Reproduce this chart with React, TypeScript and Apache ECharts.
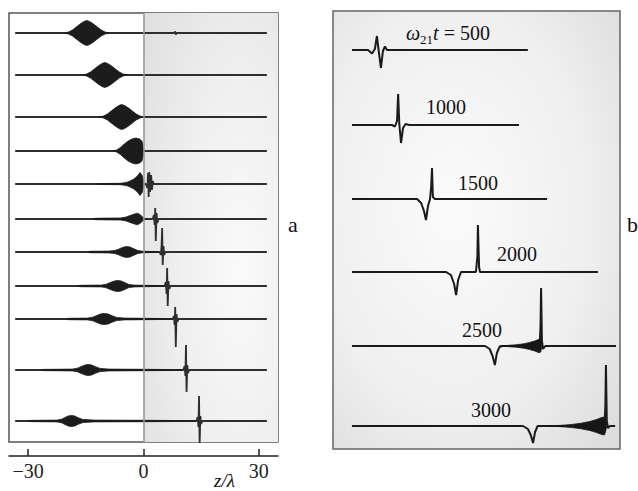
import React, { useEffect, useRef } from "react";
import * as echarts from "echarts";

const SERIF = '"Liberation Serif", "Times New Roman", serif';

// ---------- Panel a : z/λ traces ----------
const aZTicks = [-30, 0, 30];
const aRowOffsets = [2.0, 6.2, 10.4, 13.8, 17.1, 20.6, 23.9, 27.3, 30.6, 35.7, 40.8];
const aTraceSpan = [-33.4, 32.1];

// transmitted spikes: [z, displacement up]
const aSpikes: number[][][] = [
  [[8.0, 0], [8.2, 0.15], [8.4, -0.15], [8.6, 0]],
  [],
  [],
  [],
  [[0.6, 0], [1.0, -0.4], [1.2, 1.1], [1.35, -1.3], [1.5, 1.2], [1.7, -0.8], [2.0, 0.9], [2.2, -0.6], [2.4, 0.3], [2.7, 0]],
  [[2.4, 0], [2.7, 0.4], [2.9, -0.6], [3.05, 1.1], [3.2, -2.2], [3.4, 0.6], [3.6, -0.4], [3.9, 0]],
  [[4.2, 0], [4.5, -0.3], [4.7, 0.6], [4.85, 2.4], [5.0, -1.3], [5.2, 0.6], [5.4, -0.3], [5.7, 0]],
  [[5.5, 0], [5.8, 0.4], [6.0, -0.8], [6.15, 1.8], [6.3, -2.0], [6.5, 0.5], [6.7, -0.3], [7.0, 0]],
  [[7.6, 0], [7.9, 0.3], [8.1, -0.6], [8.25, 1.2], [8.4, -2.8], [8.6, 0.5], [8.8, -0.3], [9.1, 0]],
  [[10.4, 0], [10.7, 0.4], [10.9, -0.6], [11.05, 2.5], [11.2, -2.2], [11.4, 0.5], [11.6, -0.3], [11.9, 0]],
  [[13.8, 0], [14.1, 0.4], [14.3, -0.6], [14.45, 2.5], [14.6, -2.4], [14.8, 0.5], [15.0, -0.3], [15.3, 0]],
];

// wave-packet envelopes: [z, half amplitude]
const aEnvelopes: number[][][] = [
  [[-20.5, 0], [-19.5, 0.1], [-18.5, 0.3], [-17.5, 0.6], [-16.5, 0.9], [-15.5, 1.15], [-14.8, 1.25], [-14, 1.15], [-13, 0.9], [-12, 0.6], [-11, 0.3], [-10, 0.1], [-9, 0]],
  [[-15.8, 0], [-14.8, 0.1], [-13.8, 0.3], [-12.8, 0.6], [-11.8, 0.9], [-10.8, 1.15], [-10.1, 1.25], [-9.3, 1.15], [-8.3, 0.9], [-7.3, 0.6], [-6.3, 0.3], [-5.3, 0.1], [-4.3, 0]],
  [[-11.4, 0], [-10.4, 0.1], [-9.4, 0.3], [-8.4, 0.6], [-7.4, 0.9], [-6.4, 1.15], [-5.7, 1.25], [-4.9, 1.15], [-3.9, 0.9], [-2.9, 0.6], [-1.9, 0.3], [-0.9, 0.1], [0, 0]],
  [[-8, 0], [-7, 0.1], [-6, 0.35], [-5, 0.7], [-4, 1.0], [-3, 1.2], [-2, 1.3], [-1, 1.2], [-0.4, 1.0], [-0.1, 0.5], [0, 0]],
  [[-12, 0], [-11, 0.05], [-6, 0.07], [-4.5, 0.15], [-3.5, 0.3], [-2.5, 0.5], [-1.6, 0.8], [-0.9, 1.15], [-0.4, 0.9], [-0.1, 0.5], [0.1, 0]],
  [[-13, 0], [-12.5, 0.07], [-9, 0.09], [-6, 0.1], [-4.5, 0.2], [-3.5, 0.35], [-2.5, 0.48], [-1.6, 0.58], [-0.8, 0.42], [-0.2, 0.18], [0.2, 0.07], [1, 0]],
  [[-14.5, 0], [-14, 0.07], [-9, 0.09], [-7.5, 0.15], [-6.5, 0.28], [-5.5, 0.45], [-4.5, 0.55], [-3.5, 0.5], [-2.5, 0.32], [-1.5, 0.15], [-0.5, 0.09], [1, 0.06], [3, 0.05], [4, 0]],
  [[-17, 0], [-16.5, 0.07], [-11, 0.09], [-9.8, 0.16], [-8.8, 0.33], [-7.6, 0.5], [-6.7, 0.55], [-5.8, 0.5], [-4.8, 0.33], [-3.8, 0.16], [-2.5, 0.09], [0, 0.07], [3, 0.05], [5.5, 0]],
  [[-20, 0], [-19.5, 0.07], [-14.5, 0.09], [-13.2, 0.18], [-12, 0.38], [-11, 0.52], [-10.1, 0.55], [-9.2, 0.5], [-8.2, 0.33], [-7, 0.16], [-5, 0.09], [0, 0.07], [4, 0.05], [7.5, 0]],
  [[-26.5, 0], [-26, 0.06], [-18.5, 0.09], [-17.2, 0.18], [-16, 0.38], [-15, 0.52], [-14.3, 0.55], [-13.5, 0.5], [-12.5, 0.33], [-11.3, 0.16], [-9, 0.09], [0, 0.07], [6, 0.05], [10, 0]],
  [[-30, 0], [-29.5, 0.06], [-22.5, 0.09], [-21.3, 0.18], [-20.3, 0.38], [-19.4, 0.52], [-18.7, 0.55], [-17.9, 0.5], [-17, 0.33], [-15.8, 0.16], [-13, 0.09], [0, 0.07], [8, 0.05], [13.5, 0]],
];

// ---------- Panel b : ω21 t traces ----------
const bRowLabels = ["500", "1000", "1500", "2000", "2500", "3000"];
const bRowOffsets = [3.9, 11.4, 18.8, 26.1, 33.5, 41.5];
const bTraces: number[][][] = [
  [[6.6, 0], [12.2, 0], [13.6, -0.35], [14.6, 0.1], [15.3, 1.4], [15.8, 0.2], [16.7, -1.8], [17.4, -0.1], [18.1, 0.35], [18.8, 0], [67.9, 0]],
  [[6.6, 0], [20.5, 0], [21.6, -0.15], [22.3, 0.4], [22.7, 3.1], [23.1, 0.1], [23.7, -1.8], [24.4, -0.3], [25.3, 0.1], [26.5, 0], [64.8, 0]],
  [[6.6, 0], [29.3, 0], [30.7, -0.4], [31.7, -1.2], [32.4, -2.1], [33.1, -0.7], [33.8, 0], [34.2, 1.2], [34.5, 3.1], [34.8, 0.2], [35.5, 0], [74.6, 0]],
  [[6.6, 0], [39.4, 0], [41.1, -0.3], [42.2, -1.2], [42.9, -2.3], [43.6, -0.8], [44.6, 0], [49.8, 0], [50.3, 1.5], [50.5, 4.7], [50.9, 0.5], [51.2, 0], [92.3, 0]],
  [[6.6, 0], [53, 0], [54.6, -0.3], [55.6, -1.0], [56.4, -1.9], [57.1, -0.7], [58, -0.1], [59, 0], [72, 0], [72.3, 2.0], [72.5, 5.8], [72.8, 0.5], [73.2, -0.3], [74, 0], [98.6, 0]],
  [[6.6, 0], [66.2, 0], [67.9, -0.3], [68.9, -0.9], [69.7, -1.7], [70.4, -0.6], [71.3, 0], [94.6, 0], [94.9, 2.0], [95.1, 6.1], [95.4, 0.5], [95.8, -0.2], [96.5, 0], [98.3, 0]],
];
const bEnvelopeRows = [4, 5];
const bEnvelopes: number[][][] = [
  [[58, 0], [61, 0.06], [64, 0.13], [66.5, 0.22], [68.5, 0.35], [70.5, 0.52], [71.8, 0.68], [72.4, 0.6], [72.8, 0]],
  [[75, 0], [79, 0.06], [83, 0.15], [86.5, 0.28], [89.5, 0.45], [91.8, 0.65], [93.6, 0.85], [94.6, 0.9], [95.1, 0.4], [95.4, 0]],
];

function envelopeRenderer(envs: number[][][], offsets: number[], rows: number[], fill: string) {
  return (params: any, api: any) => {
    const i = params.dataIndex;
    const env = envs[i];
    const off = offsets[rows[i]];
    const upper = env.map(([z, a]) => api.coord([z, off - a]));
    const lower = env
      .slice()
      .reverse()
      .map(([z, a]) => api.coord([z, off + a]));
    return {
      type: "polygon",
      shape: { points: upper.concat(lower) },
      style: { fill, stroke: fill, lineWidth: 0.8 },
    };
  };
}

function buildOption() {
  const series: any[] = [];
  const aRows = aRowOffsets.map((_, i) => i);

  // shading + zero line holder
  series.push({
    type: "line",
    xAxisIndex: 0,
    yAxisIndex: 0,
    data: [[-35, 0]],
    symbol: "none",
    lineStyle: { width: 0 },
    silent: true,
    z: 1,
    markArea: {
      silent: true,
      itemStyle: {
        color: {
          type: "radial",
          x: 0.72,
          y: 0.6,
          r: 1.3,
          colorStops: [
            { offset: 0, color: "#fafafa" },
            { offset: 0.35, color: "#efefef" },
            { offset: 1, color: "#d2d2d2" },
          ],
        },
      },
      data: [[{ xAxis: 0 }, { xAxis: 35 }]],
    },
    markLine: {
      silent: true,
      symbol: ["none", "none"],
      label: { show: false },
      lineStyle: { color: "#9a9a9a", width: 1.6, type: "solid" },
      data: [{ xAxis: 0 }],
    },
  });

  aRowOffsets.forEach((off, i) => {
    const pts = [
      [aTraceSpan[0], off],
      ...aSpikes[i].map(([z, a]) => [z, off - a]),
      [aTraceSpan[1], off],
    ];
    series.push({
      type: "line",
      xAxisIndex: 0,
      yAxisIndex: 0,
      data: pts,
      symbol: "none",
      showSymbol: false,
      silent: true,
      z: 3,
      lineStyle: { color: "#2e2e2e", width: 1.8 },
    });
  });

  series.push({
    type: "custom",
    xAxisIndex: 0,
    yAxisIndex: 0,
    silent: true,
    z: 4,
    renderItem: envelopeRenderer(aEnvelopes, aRowOffsets, aRows, "#1c1c1c"),
    data: aEnvelopes.map((env, i) => [env[0][0], aRowOffsets[i]]),
  });

  bTraces.forEach((tr, i) => {
    const off = bRowOffsets[i];
    series.push({
      type: "line",
      xAxisIndex: 1,
      yAxisIndex: 1,
      data: tr.map(([u, a]) => [u, off - a]),
      symbol: "none",
      showSymbol: false,
      silent: true,
      z: 3,
      lineStyle: { color: "#1a1a1a", width: 2 },
    });
  });

  series.push({
    type: "custom",
    xAxisIndex: 1,
    yAxisIndex: 1,
    silent: true,
    z: 4,
    renderItem: envelopeRenderer(bEnvelopes, bRowOffsets, bEnvelopeRows, "#161616"),
    data: bEnvelopes.map((env, i) => [env[0][0], bRowOffsets[bEnvelopeRows[i]]]),
  });

  const labelPos = [
    [406, 33],
    [426, 107],
    [458, 183],
    [497, 254],
    [462, 330],
    [471, 410],
  ];

  const graphic: any[] = bRowLabels.map((lab, i) => {
    if (i === 0) {
      return {
        type: "text",
        x: labelPos[i][0],
        y: labelPos[i][1],
        z: 10,
        style: {
          text: "{i|ω}{s|21}{i|t}{n| = " + lab + "}",
          verticalAlign: "middle",
          align: "left",
          fill: "#111",
          rich: {
            i: { fontFamily: SERIF, fontStyle: "italic", fontSize: 20, lineHeight: 26, verticalAlign: "middle", fill: "#111" },
            s: { fontFamily: SERIF, fontSize: 13, lineHeight: 13, verticalAlign: "bottom", fill: "#111" },
            n: { fontFamily: SERIF, fontSize: 20, lineHeight: 26, verticalAlign: "middle", fill: "#111" },
          },
        },
      };
    }
    return {
      type: "text",
      x: labelPos[i][0],
      y: labelPos[i][1],
      z: 10,
      style: {
        text: lab,
        fontFamily: SERIF,
        fontSize: 20,
        fill: "#111",
        align: "left",
        verticalAlign: "middle",
      },
    };
  });

  graphic.push(
    {
      type: "text",
      x: 288,
      y: 224,
      style: { text: "a", fontFamily: SERIF, fontSize: 22, fill: "#111", align: "left", verticalAlign: "middle" },
    },
    {
      type: "text",
      x: 627,
      y: 224,
      style: { text: "b", fontFamily: SERIF, fontSize: 22, fill: "#111", align: "left", verticalAlign: "middle" },
    },
    {
      type: "text",
      x: 214,
      y: 480,
      style: {
        text: "z/λ",
        fontFamily: SERIF,
        fontStyle: "italic",
        fontSize: 19,
        fill: "#111",
        align: "left",
        verticalAlign: "middle",
      },
    }
  );

  return {
    animation: false,
    backgroundColor: "#ffffff",
    grid: [
      {
        left: 9,
        top: 13,
        width: 269,
        height: 429,
        show: true,
        backgroundColor: "#ffffff",
        borderColor: "#555555",
        borderWidth: 1.5,
      },
      {
        left: 333,
        top: 11,
        width: 287,
        height: 438,
        show: true,
        borderColor: "#666666",
        borderWidth: 1.5,
        backgroundColor: {
          type: "radial",
          x: 0.42,
          y: 0.45,
          r: 1.05,
          colorStops: [
            { offset: 0, color: "#fbfbfb" },
            { offset: 0.45, color: "#efefef" },
            { offset: 1, color: "#cbcbcb" },
          ],
        },
      },
    ],
    xAxis: [
      {
        type: "value",
        gridIndex: 0,
        min: -35,
        max: 35,
        position: "bottom",
        offset: 14,
        axisLine: { show: true, onZero: false, lineStyle: { color: "#222", width: 1.5 } },
        axisTick: { show: true, inside: true, length: 7, customValues: aZTicks, lineStyle: { color: "#222", width: 1.5 } },
        axisLabel: {
          show: true,
          customValues: aZTicks,
          margin: 5,
          fontFamily: SERIF,
          fontSize: 20,
          color: "#222",
          formatter: (v: number) => (v < 0 ? "\u2212" + Math.abs(v) : String(v)),
        },
        splitLine: { show: false },
      },
      {
        type: "value",
        gridIndex: 1,
        min: 0,
        max: 100,
        show: false,
      },
    ],
    yAxis: [
      { type: "value", gridIndex: 0, min: 0, max: 42.9, inverse: true, show: false },
      { type: "value", gridIndex: 1, min: 0, max: 43.8, inverse: true, show: false },
    ],
    series,
    graphic,
  };
}

export default function App() {
  const ref = useRef<HTMLDivElement>(null);
  useEffect(() => {
    if (!ref.current) return;
    const chart = echarts.init(ref.current, undefined, { renderer: "svg" });
    chart.setOption(buildOption() as any);
    return () => chart.dispose();
  }, []);
  return (
    <div
      ref={ref}
      style={{ position: "absolute", left: 0, top: 0, width: 638, height: 491, background: "#fff" }}
    />
  );
}
